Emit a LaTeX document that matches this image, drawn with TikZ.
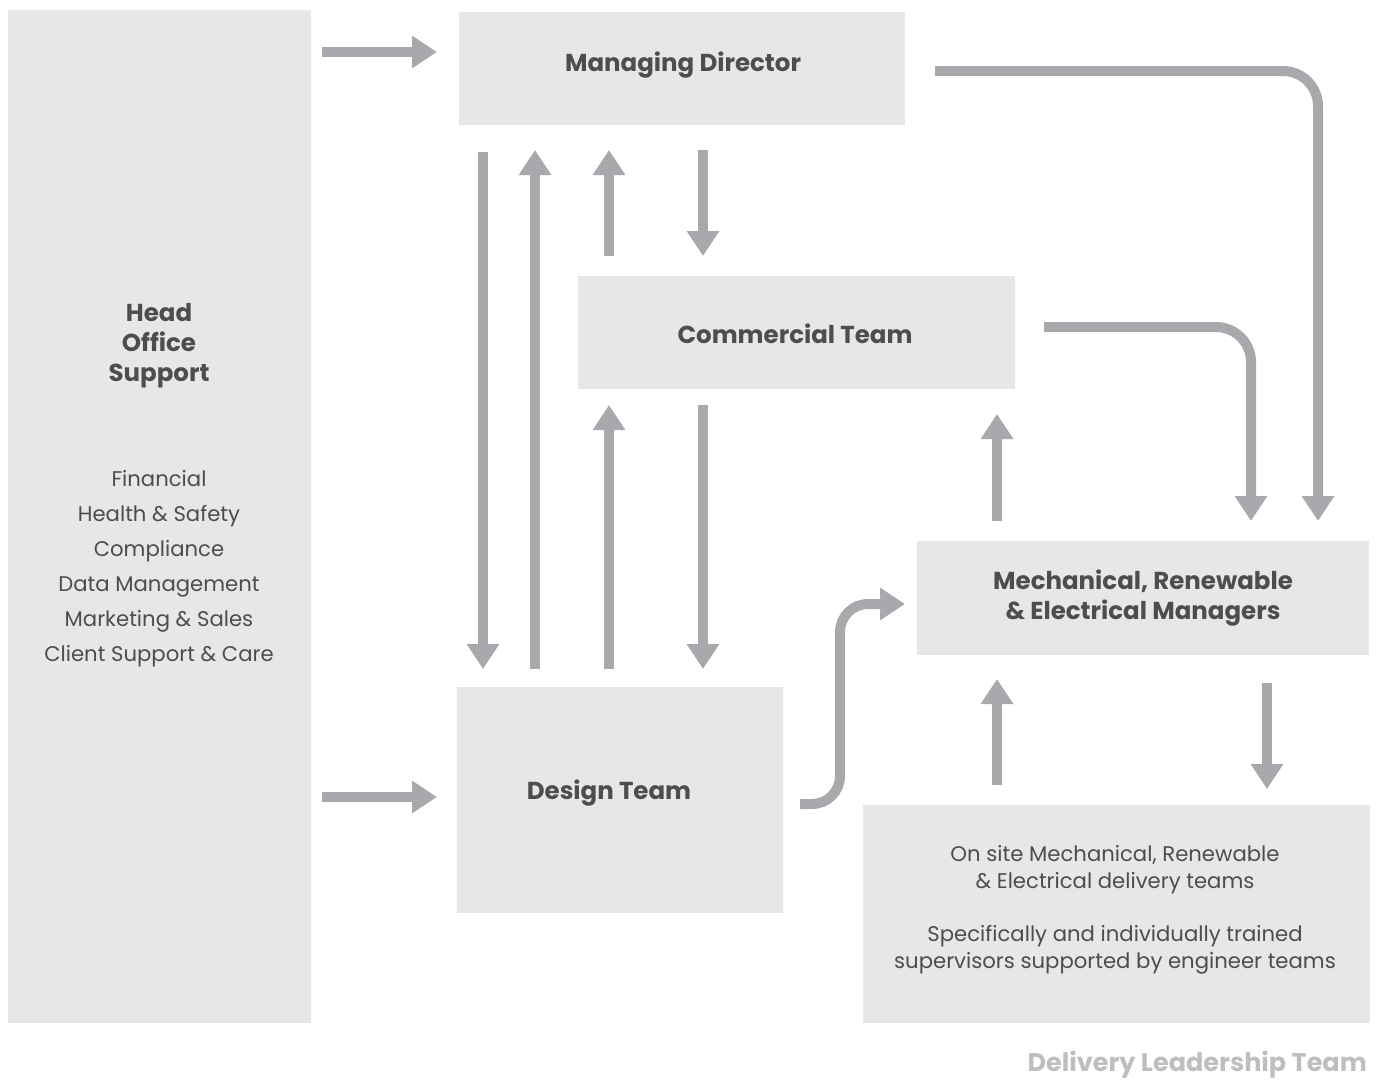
\documentclass[tikz,border=0pt]{standalone}
\usepackage{fontspec}
\setmainfont{Poppins}
\usetikzlibrary{arrows.meta}
\definecolor{boxfill}{HTML}{E6E7E8}
\definecolor{arrowgray}{HTML}{A7A9AC}
\definecolor{textdark}{HTML}{4D4D4F}
\definecolor{textlight}{HTML}{BCBEC0}
\tikzset{
  box/.style={fill=boxfill, draw=none, inner sep=0pt, anchor=north west},
  flow/.style={draw=arrowgray, line width=10pt, -{Triangle[width=31pt,length=25pt]}},
  title/.style={text=textdark, font=\fontsize{24.5}{30}\selectfont\bfseries, align=center, inner sep=0pt},
  body/.style={text=textdark, font=\fontsize{21.2}{27}\selectfont, align=center, inner sep=0pt},
}
\begin{document}
\begin{tikzpicture}[x=1pt,y=-1pt]
\useasboundingbox (0,0) rectangle (1383,1080);
% boxes
\node[box, minimum width=303pt, minimum height=1013pt] (ho) at (8,10) {};
\node[box, minimum width=446pt, minimum height=113pt] (md) at (459,12) {};
\node[box, minimum width=437pt, minimum height=113pt] (ct) at (578,276) {};
\node[box, minimum width=326pt, minimum height=226pt] (dt) at (457,687) {};
\node[box, minimum width=452pt, minimum height=114pt] (mm) at (917,541) {};
\node[box, minimum width=507pt, minimum height=218pt] (os) at (863,805) {};
% texts
\node[title] (hot) at (159,346) {Head\\Office\\Support};
\node[body, font=\fontsize{21.2}{35}\selectfont] (hol) at (159,568.5) {Financial\\Health \& Safety\\Compliance\\Data Management\\Marketing \& Sales\\Client Support \& Care};
\node[title] (mdt) at (683,65.5) {Managing Director};
\node[title] (ctt) at (795,334) {Commercial Team};
\node[title] (dtt) at (609,793.5) {Design Team};
\node[title] (mmt) at (1143,598) {Mechanical, Renewable\\\& Electrical Managers};
\node[body] (ost1) at (1115,870) {On site Mechanical, Renewable\\\& Electrical delivery teams};
\node[body] (ost2) at (1115,950) {Specifically and individually trained\\supervisors supported by engineer teams};
\node[text=textlight, font=\fontsize{25.5}{30}\selectfont\bfseries, anchor=east, inner sep=0pt] (dlt) at (1367,1065) {Delivery Leadership Team};
% arrow end coordinates
\coordinate (a1s) at (322,52);   \coordinate (a1e) at (437,52);
\coordinate (a2s) at (322,797);  \coordinate (a2e) at (437,797);
\coordinate (a3s) at (483,152);  \coordinate (a3e) at (483,669);
\coordinate (a4s) at (535,669);  \coordinate (a4e) at (535,150);
\coordinate (a5s) at (609,256);  \coordinate (a5e) at (609,150);
\coordinate (a6s) at (703,150);  \coordinate (a6e) at (703,256);
\coordinate (a7s) at (609,669);  \coordinate (a7e) at (609,405);
\coordinate (a8s) at (703,405);  \coordinate (a8e) at (703,669);
\coordinate (a9s) at (997,521);  \coordinate (a9e) at (997,414);
\coordinate (a10s) at (997,785); \coordinate (a10e) at (997,679);
\coordinate (a11s) at (1267,683); \coordinate (a11e) at (1267,789);
\coordinate (a12s) at (935,71);  \coordinate (a12e) at (1318,521);
\coordinate (a13s) at (1044,327); \coordinate (a13e) at (1251,521);
\coordinate (a14s) at (800,804); \coordinate (a14m) at (840,604); \coordinate (a14e) at (905,604);
% arrows
\draw[flow] (a1s) -- (a1e);
\draw[flow] (a2s) -- (a2e);
\draw[flow] (a3s) -- (a3e);
\draw[flow] (a4s) -- (a4e);
\draw[flow] (a5s) -- (a5e);
\draw[flow] (a6s) -- (a6e);
\draw[flow] (a7s) -- (a7e);
\draw[flow] (a8s) -- (a8e);
\draw[flow] (a9s) -- (a9e);
\draw[flow] (a10s) -- (a10e);
\draw[flow] (a11s) -- (a11e);
\draw[flow, rounded corners=35pt] (a12s) -| (a12e);
\draw[flow, rounded corners=35pt] (a13s) -| (a13e);
\draw[flow, rounded corners=28pt] (a14s) -| (a14m) -- (a14e);
\end{tikzpicture}
\end{document}
